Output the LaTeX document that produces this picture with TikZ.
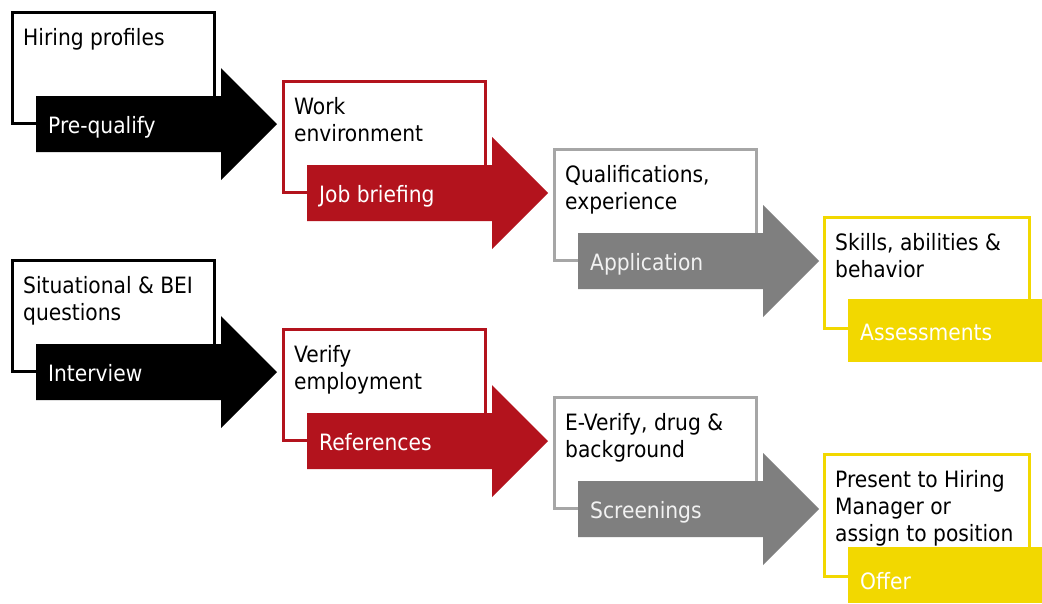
\documentclass[tikz,border=0pt]{standalone}
\usepackage{fontspec}
\setmainfont{DejaVu Sans Condensed}
\definecolor{cred}{RGB}{179,19,29}
\definecolor{cgray}{RGB}{127,127,127}
\definecolor{cgrayline}{RGB}{166,166,166}
\definecolor{cyellow}{RGB}{242,216,0}
\definecolor{cpale}{RGB}{242,242,242}
\tikzset{
  stagebox/.style={draw=#1, fill=white, line width=3pt, line join=miter,
    minimum width=202pt, minimum height=111pt, anchor=north west, inner sep=0pt},
  boxtext/.style={anchor=north west, align=left, inner sep=0pt, text=black,
    font=\fontsize{22.5}{27}\selectfont},
  arrowtext/.style={anchor=base west, inner sep=0pt, text=#1,
    font=\fontsize{22.5}{27}\selectfont},
}
% #1 name, #2 x, #3 y, #4 border colour, #5 fill colour, #6 box text, #7 label, #8 label colour
\newcommand\stagearrow[8]{%
  \begin{scope}[shift={(#2,#3)}]
    \node[stagebox=#4] (#1box) at (0,0) {};
    \node[boxtext] (#1txt) at (12,17.5) {#6};
    \fill[#5] (25,85) -- (210,85) -- (210,57) -- (266,113) -- (210,169)
      -- (210,141) -- (25,141) -- cycle;
    \node[arrowtext=#8] (#1lbl) at (37,122) {#7};
  \end{scope}}
\begin{document}
\begin{tikzpicture}[x=1pt,y=-1pt]
\useasboundingbox (0,0) rectangle (1042,603);
\fill[white] (0,0) rectangle (1042,603);
% top row
\stagearrow{pre}{11}{11}{black}{black}{Hiring profiles}{Pre-qualify}{white}
\stagearrow{job}{282}{80}{cred}{cred}{Work\\environment}{Job briefing}{white}
\stagearrow{app}{553}{148}{cgrayline}{cgray}{Qualifications,\\experience}{Application}{cpale}
\begin{scope}[shift={(823,216)}]
  \node[stagebox=cyellow, minimum width=205pt] (assbox) at (0,0) {};
  \node[boxtext] (asstxt) at (12,17.5) {Skills, abilities \&\\behavior};
  \fill[cyellow] (25,83) rectangle (219,146);
  \node[arrowtext=white] (asslbl) at (37,124) {Assessments};
\end{scope}
% bottom row
\stagearrow{int}{11}{259}{black}{black}{Situational \& BEI\\questions}{Interview}{white}
\stagearrow{ref}{282}{328}{cred}{cred}{Verify\\employment}{References}{white}
\stagearrow{scr}{553}{396}{cgrayline}{cgray}{E-Verify, drug \&\\background}{Screenings}{cpale}
\begin{scope}[shift={(823,453)}]
  \node[stagebox=cyellow, minimum width=205pt, minimum height=122pt] (offbox) at (0,0) {};
  \node[boxtext] (offtxt) at (12,17.5) {Present to Hiring\\Manager or\\assign to position};
  \fill[cyellow] (25,94) rectangle (219,150);
  \node[arrowtext=white] (offlbl) at (37,136) {Offer};
\end{scope}
\end{tikzpicture}
\end{document}
